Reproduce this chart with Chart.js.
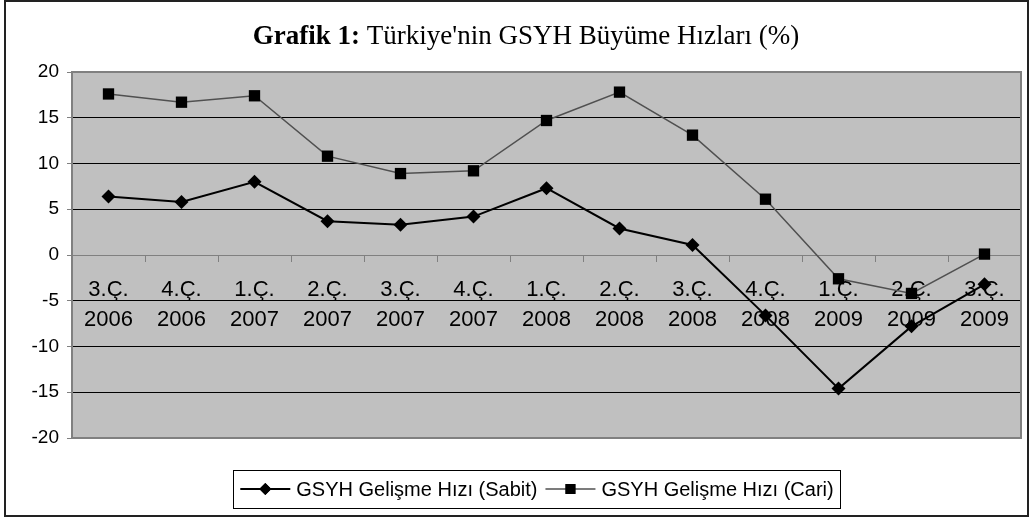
<!DOCTYPE html>
<html><head><meta charset="utf-8">
<script src="https://cdn.jsdelivr.net/npm/chart.js@4.4.1/dist/chart.umd.min.js"></script>
<style>html,body{margin:0;padding:0;background:#fff;overflow:hidden}#wrap{position:relative;width:1029px;height:517px}</style>
</head><body><div id="wrap"><canvas id="c" width="1029" height="517"></canvas></div>
<script>
const quarters = ["3.Ç.","4.Ç.","1.Ç.","2.Ç.","3.Ç.","4.Ç.","1.Ç.","2.Ç.","3.Ç.","4.Ç.","1.Ç.","2.Ç.","3.Ç."];
const years = ["2006","2006","2007","2007","2007","2007","2008","2008","2008","2008","2009","2009","2009"];
const sabit = [6.4,5.8,8.0,3.7,3.3,4.2,7.3,2.9,1.1,-6.6,-14.6,-7.8,-3.2];
const cari = [17.6,16.7,17.4,10.8,8.9,9.2,14.7,17.8,13.1,6.1,-2.6,-4.2,0.1];
const yTicks = [-20,-15,-10,-5,0,5,10,15,20];
const titleBold = "Grafik 1:";
const titleRest = " Türkiye'nin GSYH Büyüme Hızları (%)";
const seriesNames = ["GSYH Gelişme Hızı (Sabit)","GSYH Gelişme Hızı (Cari)"];

const labels = quarters.map((q,i)=>[q, years[i]]);
const SANS = '"Liberation Sans", Arial, sans-serif';
const SERIF = '"Liberation Serif", "Times New Roman", serif';

const decor = {
  id:'decor',
  beforeDraw(chart){
    const {ctx, chartArea:a} = chart;
    ctx.save();
    ctx.fillStyle='#fff'; ctx.fillRect(0,0,chart.width,chart.height);
    ctx.fillStyle='#c0c0c0'; ctx.fillRect(a.left,a.top,a.right-a.left,a.bottom-a.top);
    ctx.restore();
  },
  afterDraw(chart){
    const {ctx, chartArea:a} = chart;
    ctx.save();
    ctx.strokeStyle='#808080'; ctx.lineWidth=2;
    ctx.strokeRect(a.left, a.top, a.right-a.left, a.bottom-a.top);
    ctx.strokeStyle='#222'; ctx.lineWidth=2;
    ctx.strokeRect(5,1,1023,515);
    ctx.fillStyle='#000'; ctx.textBaseline='alphabetic';
    const fb = 'bold 27px '+SERIF, fn = '27px '+SERIF;
    ctx.font=fb; const wb = ctx.measureText(titleBold).width;
    ctx.font=fn; const wr = ctx.measureText(titleRest).width;
    const tx = 526 - (wb+wr)/2, ty = 44;
    ctx.font=fb; ctx.fillText(titleBold, tx, ty);
    ctx.font=fn; ctx.fillText(titleRest, tx+wb, ty);
    ctx.font='20px '+SANS;
    const lineLen=50, gapT=6, gapI=8, pad=7;
    const widths = seriesNames.map(s=>ctx.measureText(s).width);
    const total = pad*2 + widths.reduce((s,w)=>s+lineLen+gapT+w,0) + gapI;
    const bx = 537 - total/2, by = 470, bh = 38;
    ctx.fillStyle='#fff'; ctx.fillRect(bx,by,total,bh);
    ctx.strokeStyle='#000'; ctx.lineWidth=1;
    ctx.strokeRect(Math.round(bx)+0.5, by+0.5, Math.round(total), bh);
    let x = bx+pad; const cy = by+bh/2;
    chart.data.datasets.forEach((ds,i)=>{
      ctx.strokeStyle=ds.borderColor; ctx.lineWidth=ds.borderWidth;
      ctx.beginPath(); ctx.moveTo(x,cy); ctx.lineTo(x+lineLen,cy); ctx.stroke();
      ctx.fillStyle='#000';
      Chart.helpers.drawPoint(ctx,{pointStyle:ds.pointStyle, radius:ds.pointRadius-1, rotation:0, borderWidth:0}, x+lineLen/2, cy);
      ctx.fill();
      ctx.fillStyle='#000'; ctx.textBaseline='middle';
      ctx.fillText(seriesNames[i], x+lineLen+gapT, cy+1);
      x += lineLen+gapT+widths[i]+gapI;
    });
    ctx.restore();
  }
};

new Chart(document.getElementById('c'), {
  type:'line',
  data:{labels, datasets:[
    {label:seriesNames[0], data:sabit, borderColor:'#000', borderWidth:2, pointStyle:'rectRot', pointRadius:7, pointBackgroundColor:'#000', pointBorderColor:'#000', pointBorderWidth:0, tension:0, clip:false},
    {label:seriesNames[1], data:cari, borderColor:'#505050', borderWidth:1.5, pointStyle:'rect', pointRadius:8, pointBackgroundColor:'#000', pointBorderColor:'#000', pointBorderWidth:0, tension:0, clip:false}
  ]},
  options:{
    responsive:false, animation:false, devicePixelRatio:1,
    layout:{padding:{left:0, top:72, right:4, bottom:79}},
    plugins:{legend:{display:false}, title:{display:false}, tooltip:{enabled:false}},
    scales:{
      y:{min:-20, max:20,
        afterBuildTicks(s){ s.ticks = yTicks.map(v=>({value:v})); },
        afterFit(s){ s.width = 72; },
        ticks:{font:{family:SANS, size:19}, color:'#000', padding:8},
        grid:{color:(c)=> (c.tick && (c.tick.value===0||Math.abs(c.tick.value)===20)) ? '#808080' : '#000', lineWidth:1, tickLength:5, tickColor:'#808080'},
        border:{display:true, color:'#808080', width:1}
      },
      x:{type:'category', position:{y:0}, offset:true,
        grid:{drawOnChartArea:false, drawTicks:true, tickLength:6, color:'#808080', offset:true},
        border:{display:true, color:'#808080', width:1},
        ticks:{font:{family:SANS, size:22, lineHeight:1.36}, color:'#000', padding:14, maxRotation:0, autoSkip:false}
      }
    }
  },
  plugins:[decor]
});
</script></body></html>
